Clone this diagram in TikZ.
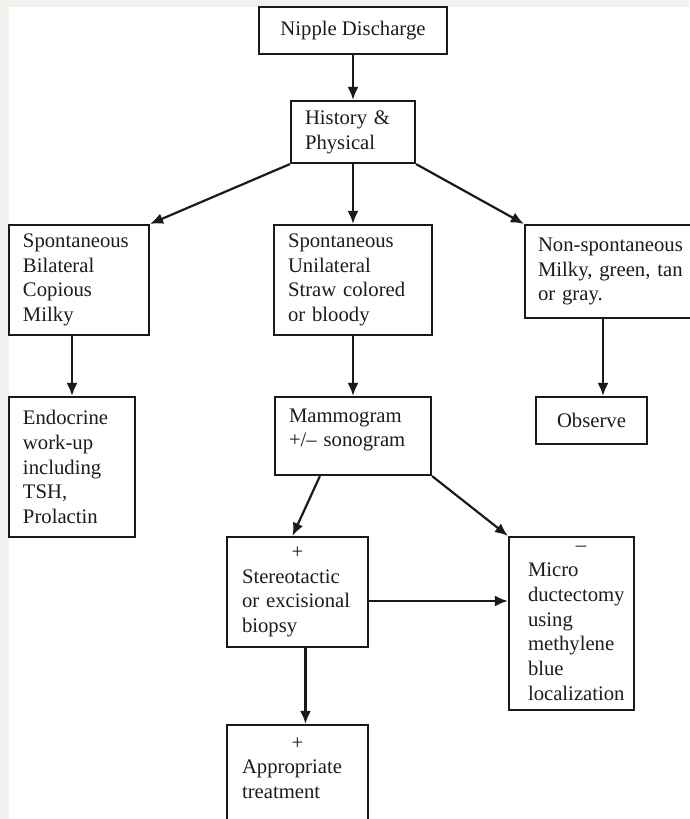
\documentclass[tikz,border=0pt]{standalone}
\usepackage{fontspec}
\setmainfont{Liberation Serif}
\usepackage{tikz}
\usetikzlibrary{calc,arrows.meta}
\definecolor{linecol}{HTML}{1A1A1A}
\definecolor{textcol}{HTML}{1C1C1C}
\definecolor{framecol}{HTML}{F1F1ED}

\begin{document}
\begin{tikzpicture}[x=1pt,y=-1pt,
  flowbox/.style={draw=linecol,line width=2.2pt,text=textcol,inner xsep=14pt,inner ysep=0pt,align=left,font=\fontsize{20.7}{24.7}\selectfont},
  flowarrow/.style={draw=linecol,line width=2.2pt,-{Latex[length=13pt,width=11pt]}}]
\useasboundingbox (0,0) rectangle (689,819);
\fill[framecol] (0,0) rectangle (689,819);
\fill[white] (9,7) rectangle (689,819);
\node[flowbox,align=center,minimum width=188pt,minimum height=47pt] at (353,30.5) (nipple) {Nipple Discharge};
\node[flowbox,text width=96pt,minimum height=62pt] at (353,132) (hist) {History \&\\Physical};
\node[flowbox,text width=112pt,minimum height=110pt] at (79,280) (spbil) {Spontaneous\\Bilateral\\Copious\\Milky};
\node[flowbox,text width=130pt,minimum height=110pt] at (353,280) (spuni) {Spontaneous\\Unilateral\\Straw colored\\or bloody};
\node[flowbox,inner xsep=13pt,text width=164pt,minimum height=93pt] at (620,271.5) (nonsp) {Non-spontaneous\\Milky, green, tan\\or gray.};
\node[flowbox,text width=98pt,minimum height=140pt] at (72,467) (endo) {Endocrine\\work-up\\including\\TSH,\\Prolactin};
\node[flowbox,text width=128pt,minimum height=78pt] at (353,436) (mamm) {Mammogram\\+/-- sonogram\par\kern12pt};
\node[flowbox,align=center,minimum width=111pt,minimum height=47pt] at (591.5,420.5) (obs) {Observe};
\node[flowbox,inner xsep=15pt,text width=111pt,minimum height=110pt] at (297.5,592) (biopsy) {\makebox[\linewidth]{+}\\Stereotactic\\or excisional\\biopsy};
\node[flowbox,inner xsep=19pt,text width=87pt,minimum height=173pt] at (571.5,623.5) (micro) {\makebox[\linewidth]{\hspace*{19pt}--}\\Micro\\ductectomy\\using\\methylene\\blue\\localization};
\node[flowbox,inner xsep=15pt,text width=111pt,minimum height=110pt] at (297.5,780) (treat) {\makebox[\linewidth]{+}\\Appropriate\\treatment\par\kern24pt};
\draw[flowarrow] (nipple) -- (hist);
\draw[flowarrow] (hist.south west) -- (spbil.north east);
\draw[flowarrow] (hist) -- (spuni);
\draw[flowarrow] (hist.south east) -- (nonsp.north west);
\draw[flowarrow] (spbil.south -| endo.north) -- (endo);
\draw[flowarrow] (spuni) -- (mamm);
\draw[flowarrow] ([xshift=-17pt]nonsp.south) -- ([xshift=-17pt]nonsp.south |- obs.north);
\draw[flowarrow] ([xshift=46pt]mamm.south west) -- ([xshift=-5pt]biopsy.north);
\draw[flowarrow] (mamm.south east) -- (micro.north west);
\draw[flowarrow] ([yshift=-9pt]biopsy.east) -- ([yshift=-9pt]biopsy.east -| micro.west);
\draw[flowarrow] ([xshift=8pt]biopsy.south) -- ([xshift=8pt]treat.north);
\end{tikzpicture}
\end{document}
